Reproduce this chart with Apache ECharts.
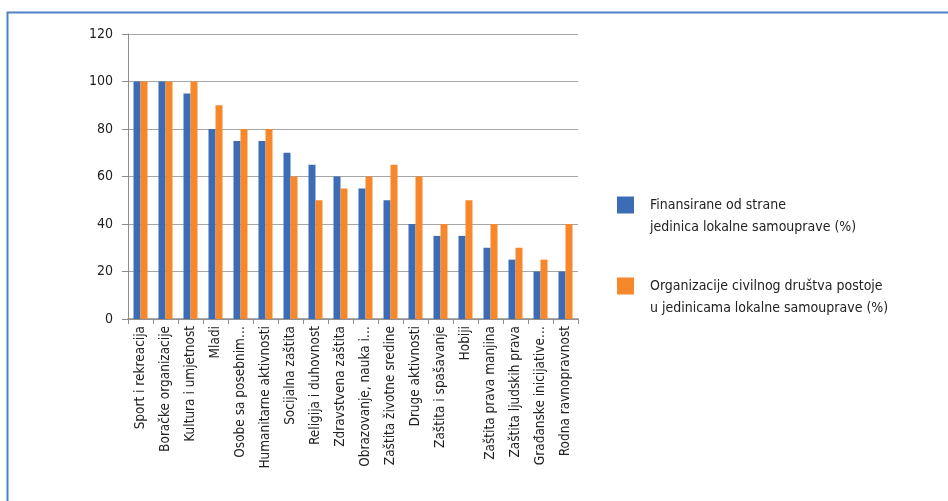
<!DOCTYPE html>
<html><head><meta charset="utf-8">
<script src="https://cdn.jsdelivr.net/npm/echarts@6/dist/echarts.min.js"></script>
<style>html,body{margin:0;padding:0;background:#fff}#c{width:948px;height:501px}</style>
</head><body><div id="c"></div>
<script>
const categories = ["Sport i rekreacija","Boračke organizacije","Kultura i umjetnost","Mladi","Osobe sa posebnim…","Humanitarne aktivnosti","Socijalna zaštita","Religija i duhovnost","Zdravstvena zaštita","Obrazovanje, nauka i…","Zaštita životne sredine","Druge aktivnosti","Zaštita i spašavanje","Hobiji","Zaštita prava manjina","Zaštita ljudskih prava","Građanske inicijative…","Rodna ravnopravnost"];
const financed = [100,100,95,80,75,75,70,65,60,55,50,40,35,35,30,25,20,20];
const existing = [100,100,100,90,80,80,60,50,55,60,65,60,40,50,40,30,25,40];
const seriesNames = ["Finansirane od strane\njedinica lokalne samouprave (%)","Organizacije civilnog društva postoje\nu jedinicama lokalne samouprave (%)"];
const yTicks = {min:0,max:120,interval:20};

const FONT = "'Liberation Sans Narrow','DejaVu Sans Condensed','Roboto',sans-serif";
const chart = echarts.init(document.getElementById('c'));
chart.setOption({
  animation:false,
  backgroundColor:'#fff',
  textStyle:{fontFamily:FONT},
  graphic:[{type:'rect',left:5,top:10,shape:{width:1000,height:600},style:{fill:'none',stroke:'#4f81c4',lineWidth:2},silent:true}],
  grid:{left:128,right:370,top:34,bottom:182},
  legend:{
    orient:'vertical',left:612,top:167,itemWidth:17,itemHeight:17,itemGap:15,
    icon:'rect',
    formatter:function(n){return ' \n'+n;},
    textStyle:{fontFamily:FONT,fontSize:14,color:'#222',lineHeight:22,padding:[0,0,0,11]},
    data:seriesNames
  },
  xAxis:{
    type:'category',data:categories,
    axisLine:{lineStyle:{color:'#8c8c8c',width:1.5}},
    axisTick:{show:true,length:5,lineStyle:{color:'#8c8c8c'}},
    axisLabel:{rotate:90,interval:0,margin:7,fontSize:13.5,color:'#222',fontFamily:FONT}
  },
  yAxis:{
    type:'value',min:yTicks.min,max:yTicks.max,interval:yTicks.interval,
    axisLine:{show:true,lineStyle:{color:'#8c8c8c'}},
    axisTick:{show:true,length:6,lineStyle:{color:'#8c8c8c'}},
    splitLine:{lineStyle:{color:'#a6a6a6',width:1}},
    axisLabel:{fontSize:14,color:'#222',margin:15,fontFamily:FONT}
  },
  series:[
    {name:seriesNames[0],type:'bar',data:financed,barWidth:7,barGap:'0%',itemStyle:{color:'#3b6cb5'}},
    {name:seriesNames[1],type:'bar',data:existing,barWidth:7,barGap:'0%',itemStyle:{color:'#f6872a'}}
  ]
});
</script></body></html>
